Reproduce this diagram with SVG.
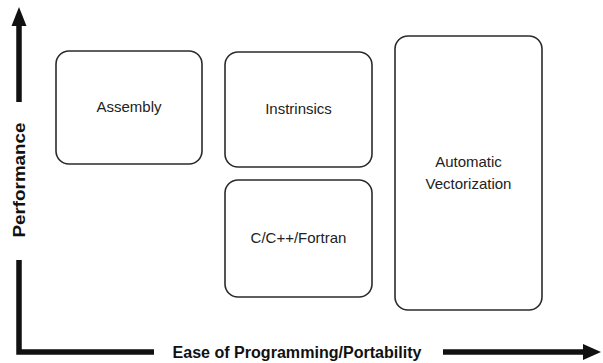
<svg xmlns="http://www.w3.org/2000/svg" width="603" height="363" viewBox="0 0 603 363">
  <style>
    .box { fill: #ffffff; stroke: #2b2b2b; stroke-width: 1.6; }
    .lbl { font-family: "Liberation Sans", Arial, sans-serif; font-size: 15px; fill: #222222; text-anchor: middle; }
    .axis { font-family: "Liberation Sans", Arial, sans-serif; font-size: 16px; font-weight: bold; fill: #111111; text-anchor: middle; }
    .ax { stroke: #111111; stroke-width: 5.5; fill: none; }
    .head { fill: #111111; }
  </style>
  <rect width="603" height="363" fill="#ffffff"/>
  <g id="connectors">
    <line class="ax" x1="19" y1="24" x2="19" y2="102"/>
    <polygon class="head" points="19,7 11.5,26 26.5,26"/>
    <polyline class="ax" points="19,260 19,352 154,352"/>
    <line class="ax" x1="443" y1="352" x2="585" y2="352"/>
    <polygon class="head" points="601,352 583,344 583,360"/>
  </g>
  <g id="axis-y">
    <text class="axis" transform="translate(25,180) rotate(-90)" textLength="115" lengthAdjust="spacingAndGlyphs">Performance</text>
  </g>
  <g id="axis-x">
    <text class="axis" x="297" y="358" textLength="249" lengthAdjust="spacingAndGlyphs">Ease of Programming/Portability</text>
  </g>
  <g id="assembly">
    <rect class="box" x="56" y="51" width="146" height="113" rx="13"/>
    <text class="lbl" x="129" y="112">Assembly</text>
  </g>
  <g id="intrinsics">
    <rect class="box" x="225" y="52" width="147" height="115" rx="13"/>
    <text class="lbl" x="298.5" y="114">Instrinsics</text>
  </g>
  <g id="c-cpp-fortran">
    <rect class="box" x="225" y="180" width="147" height="117" rx="13"/>
    <text class="lbl" x="298.5" y="243">C/C++/Fortran</text>
  </g>
  <g id="auto-vectorization">
    <rect class="box" x="395" y="36" width="147" height="274" rx="13"/>
    <text class="lbl" x="468.5" y="167">Automatic</text>
    <text class="lbl" x="468.5" y="189">Vectorization</text>
  </g>
</svg>
